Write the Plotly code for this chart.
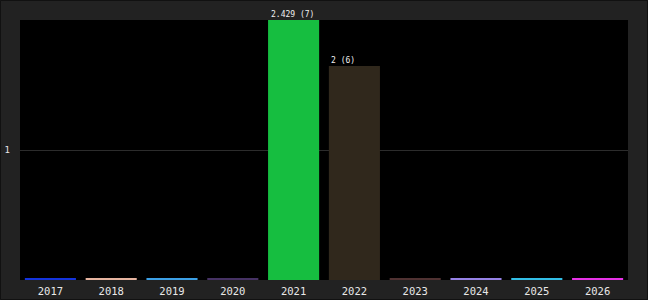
import plotly.graph_objects as go

years = ["2017", "2018", "2019", "2020", "2021", "2022", "2023", "2024", "2025", "2026"]
values = [0.008, 0.008, 0.008, 0.008, 2.429, 1.646, 0.008, 0.008, 0.008, 0.008]
labels = ["", "", "", "", "2.429 (7)", "2 (6)", "", "", "", ""]
colors = ["#1434dc", "#e6b4a0", "#3ca0e6", "#463264", "#16be40", "#30281c",
          "#503232", "#9682e6", "#32bee6", "#e632e6"]

y_range = [0, 2]

fig = go.Figure()
fig.add_trace(go.Bar(x=years, y=values, marker=dict(color=colors, line=dict(width=0)),
                     hoverinfo="skip"))

W, H = 648, 300
ml, mr, mt, mb = 20, 20, 20, 20
pw, ph = W - ml - mr, H - mt - mb

for i, (yr, v, lab) in enumerate(zip(years, values, labels)):
    if lab:
        fig.add_annotation(x=i, y=min(v, y_range[1]), text=lab, showarrow=False,
                           xanchor="left", yanchor="bottom", xshift=-25, yshift=-1,
                           font=dict(family="DejaVu Sans Mono", size=8, color="#f0f0f0"))

# outer border
fig.add_shape(type="rect", xref="paper", yref="paper",
              x0=(0.5 - ml) / pw, x1=(W - 0.5 - ml) / pw,
              y0=-(mb - 0.5) / ph, y1=1 + (mt - 0.5) / ph,
              line=dict(color="#111111", width=1), layer="below")

fig.update_layout(
    width=W, height=H,
    margin=dict(l=ml, r=mr, t=mt, b=mb, autoexpand=False),
    paper_bgcolor="#222222", plot_bgcolor="#000000",
    bargap=0.16, showlegend=False,
    font=dict(family="DejaVu Sans Mono", size=10, color="#e0e0e0"),
)
fig.update_xaxes(type="category", categoryorder="array", categoryarray=years,
                 range=[-0.5, len(years) - 0.5],
                 showgrid=False, zeroline=False, showline=False, ticks="",
                 tickfont=dict(family="DejaVu Sans Mono", size=10.5, color="#e8e8e8"),
                 ticklabelstandoff=3, automargin=False, fixedrange=True)
fig.update_yaxes(range=y_range, tickvals=[1], ticktext=["1"], showgrid=True,
                 gridcolor="#2c2c2c", gridwidth=1, zeroline=False, showline=False,
                 ticks="", tickfont=dict(family="DejaVu Sans Mono", size=9, color="#e8e8e8"),
                 ticklabelstandoff=9, automargin=False, fixedrange=True)

fig.write_html("out.html")
